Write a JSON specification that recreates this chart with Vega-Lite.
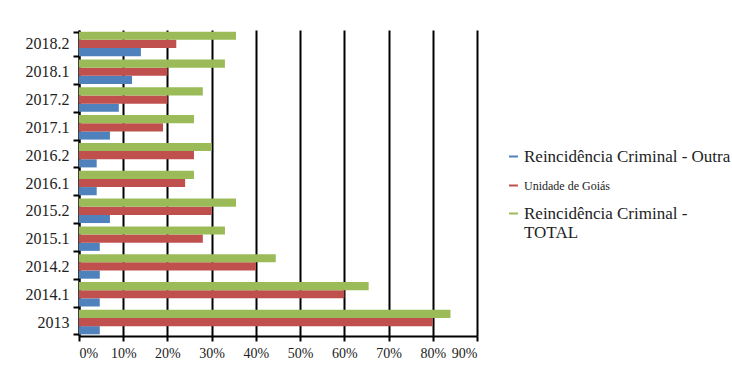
{
  "$schema": "https://vega.github.io/schema/vega-lite/v6.json",
  "width": 398,
  "height": 306,
  "autosize": "none",
  "padding": {"left": 79, "top": 30, "right": 255, "bottom": 38},
  "background": "white",
  "data": {
    "values": [
      {"period": "2013", "series": "Reincidência Criminal - Outra", "value": 0.047},
      {"period": "2013", "series": "Unidade de Goiás", "value": 0.80},
      {"period": "2013", "series": "Reincidência Criminal - TOTAL", "value": 0.84},
      {"period": "2014.1", "series": "Reincidência Criminal - Outra", "value": 0.047},
      {"period": "2014.1", "series": "Unidade de Goiás", "value": 0.60},
      {"period": "2014.1", "series": "Reincidência Criminal - TOTAL", "value": 0.655},
      {"period": "2014.2", "series": "Reincidência Criminal - Outra", "value": 0.047},
      {"period": "2014.2", "series": "Unidade de Goiás", "value": 0.40},
      {"period": "2014.2", "series": "Reincidência Criminal - TOTAL", "value": 0.445},
      {"period": "2015.1", "series": "Reincidência Criminal - Outra", "value": 0.047},
      {"period": "2015.1", "series": "Unidade de Goiás", "value": 0.28},
      {"period": "2015.1", "series": "Reincidência Criminal - TOTAL", "value": 0.33},
      {"period": "2015.2", "series": "Reincidência Criminal - Outra", "value": 0.07},
      {"period": "2015.2", "series": "Unidade de Goiás", "value": 0.30},
      {"period": "2015.2", "series": "Reincidência Criminal - TOTAL", "value": 0.355},
      {"period": "2016.1", "series": "Reincidência Criminal - Outra", "value": 0.04},
      {"period": "2016.1", "series": "Unidade de Goiás", "value": 0.24},
      {"period": "2016.1", "series": "Reincidência Criminal - TOTAL", "value": 0.26},
      {"period": "2016.2", "series": "Reincidência Criminal - Outra", "value": 0.04},
      {"period": "2016.2", "series": "Unidade de Goiás", "value": 0.26},
      {"period": "2016.2", "series": "Reincidência Criminal - TOTAL", "value": 0.30},
      {"period": "2017.1", "series": "Reincidência Criminal - Outra", "value": 0.07},
      {"period": "2017.1", "series": "Unidade de Goiás", "value": 0.19},
      {"period": "2017.1", "series": "Reincidência Criminal - TOTAL", "value": 0.26},
      {"period": "2017.2", "series": "Reincidência Criminal - Outra", "value": 0.09},
      {"period": "2017.2", "series": "Unidade de Goiás", "value": 0.20},
      {"period": "2017.2", "series": "Reincidência Criminal - TOTAL", "value": 0.28},
      {"period": "2018.1", "series": "Reincidência Criminal - Outra", "value": 0.12},
      {"period": "2018.1", "series": "Unidade de Goiás", "value": 0.20},
      {"period": "2018.1", "series": "Reincidência Criminal - TOTAL", "value": 0.33},
      {"period": "2018.2", "series": "Reincidência Criminal - Outra", "value": 0.14},
      {"period": "2018.2", "series": "Unidade de Goiás", "value": 0.22},
      {"period": "2018.2", "series": "Reincidência Criminal - TOTAL", "value": 0.355}
    ]
  },
  "mark": {"type": "bar"},
  "encoding": {
    "y": {
      "field": "period",
      "type": "nominal",
      "sort": ["2018.2", "2018.1", "2017.2", "2017.1", "2016.2", "2016.1", "2015.2", "2015.1", "2014.2", "2014.1", "2013"],
      "scale": {"paddingInner": 0.12, "paddingOuter": 0.06},
      "axis": {
        "title": null,
        "tickBand": "extent",
        "domainColor": "black",
        "domainWidth": 2,
        "tickColor": "black",
        "tickWidth": 2,
        "tickSize": 6,
        "labelFont": "Liberation Serif",
        "labelFontSize": 16,
        "labelColor": "#222",
        "labelPadding": 4,
        "grid": false
      }
    },
    "yOffset": {
      "field": "series",
      "type": "nominal",
      "sort": ["Reincidência Criminal - TOTAL", "Unidade de Goiás", "Reincidência Criminal - Outra"],
      "scale": {"paddingInner": 0, "paddingOuter": 0}
    },
    "x": {
      "field": "value",
      "type": "quantitative",
      "scale": {"domain": [0, 0.9], "nice": false},
      "axis": {
        "title": null,
        "values": [0, 0.1, 0.2, 0.3, 0.4, 0.5, 0.6, 0.7, 0.8, 0.9],
        "format": ".0%",
        "labelOverlap": false,
        "grid": true,
        "gridColor": "black",
        "gridWidth": 2,
        "gridOpacity": 1,
        "domainColor": "black",
        "domainWidth": 2,
        "tickColor": "black",
        "tickWidth": 2,
        "tickSize": 5,
        "labelFont": "Liberation Serif",
        "labelFontSize": 14,
        "labelColor": "#222",
        "labelPadding": 5
      }
    },
    "color": {
      "field": "series",
      "type": "nominal",
      "scale": {
        "domain": ["Reincidência Criminal - Outra", "Unidade de Goiás", "Reincidência Criminal - TOTAL"],
        "range": ["#4F81BD", "#C0504D", "#9BBB59"]
      },
      "legend": {
        "title": null,
        "orient": "none",
        "legendX": 426,
        "legendY": 118,
        "symbolType": "stroke",
        "symbolStrokeWidth": 2,
        "symbolSize": 80,
        "symbolOffset": 0,
        "labelOffset": 2,
        "labelFont": "Liberation Serif",
        "labelFontSize": 17,
        "labelColor": "#222",
        "labelLimit": 300,
        "rowPadding": 12,
        "labelExpr": "datum.label == 'Reincidência Criminal - TOTAL' ? ['Reincidência Criminal -', 'TOTAL'] : datum.label",
        "encode": {
          "symbols": {
            "update": {
              "stroke": {"signal": "scale('color', datum.value)"},
              "strokeWidth": {"value": 2}
            }
          },
          "labels": {
            "update": {
              "fontSize": {"signal": "datum.label == 'Unidade de Goiás' ? 12 : 17"}
            }
          }
        }
      }
    }
  },
  "config": {
    "view": {"stroke": null}
  }
}
